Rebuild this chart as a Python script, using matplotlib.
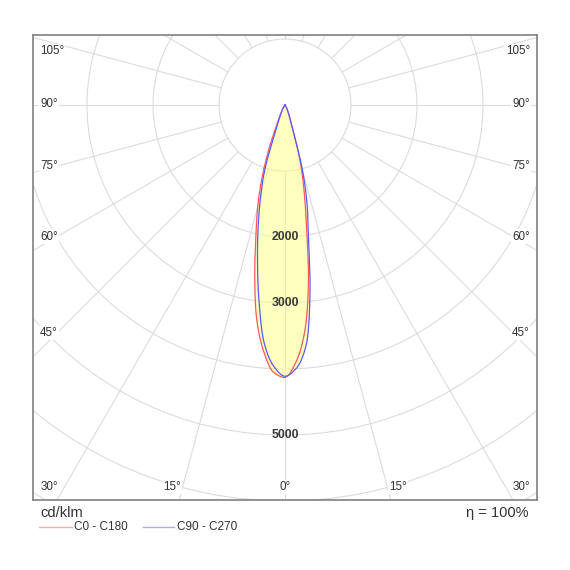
import numpy as np
import matplotlib
matplotlib.use('Agg')
import matplotlib.pyplot as plt
from matplotlib.patches import Circle

plt.rcParams['font.family'] = ['Liberation Sans', 'DejaVu Sans']

# gamma angle (deg) and intensity (cd/klm) for each C plane
gamma = [0, 2.5, 5, 7.5, 10, 12.5, 15, 17.5, 20, 22.5, 25, 30, 35, 40, 45, 90]
c0 = [4125, 3890, 3440, 2720, 1880, 1340, 900, 400, 230, 140, 90, 40, 15, 5, 0, 0]
c180 = [4130, 4050, 3740, 3280, 2640, 2040, 1600, 1160, 720, 330, 190, 80, 30, 10, 0, 0]
c90 = [4110, 3990, 3660, 2900, 2040, 1550, 1020, 390, 230, 140, 90, 40, 15, 5, 0, 0]
c270 = [4110, 3960, 3620, 3010, 2400, 1880, 1420, 1000, 400, 240, 150, 70, 25, 8, 0, 0]

rings = [1000, 2000, 3000, 4000, 5000, 6000, 7000]
ring_labels = [2000, 3000, 5000]
side_angles = [45, 60, 75, 90, 105]
bottom_angles = [0, 15, 30]

PX = 1000 / 66.0  # cd/klm per pixel


def pchip(x, y, xn):
    # monotone cubic so the photometric curve stays smooth
    x = np.asarray(x, float)
    y = np.asarray(y, float)
    h = np.diff(x)
    d = np.diff(y) / h
    m = np.zeros_like(y)
    for k in range(1, len(x) - 1):
        if d[k - 1] * d[k] > 0:
            w1 = 2 * h[k] + h[k - 1]
            w2 = h[k] + 2 * h[k - 1]
            m[k] = (w1 + w2) / (w1 / d[k - 1] + w2 / d[k])
    i = np.clip(np.searchsorted(x, xn) - 1, 0, len(x) - 2)
    t = (xn - x[i]) / h[i]
    h00 = 2 * t**3 - 3 * t**2 + 1
    h10 = t**3 - 2 * t**2 + t
    h01 = -2 * t**3 + 3 * t**2
    h11 = t**3 - t**2
    return h00 * y[i] + h10 * h[i] * m[i] + h01 * y[i + 1] + h11 * h[i] * m[i + 1]


fig = plt.figure(figsize=(5.7, 5.7), dpi=100)
ax = fig.add_axes([33 / 570, 70 / 570, 504 / 570, 465 / 570])
ax.set_xlim(-252 * PX, 252 * PX)
ax.set_ylim(-395 * PX, 70 * PX)
ax.set_aspect('equal')
ax.set_xticks([])
ax.set_yticks([])
for s in ax.spines.values():
    s.set_color('#808080')
    s.set_linewidth(1.2)

# grid
gc = '#dcdcdc'
for r in rings:
    ax.add_patch(Circle((0, 0), r, fill=False, ec=gc, lw=0.8, zorder=1))
for a in np.arange(0, 360, 15):
    t = np.radians(a)
    ax.plot([1000 * np.sin(t), 9000 * np.sin(t)], [-1000 * np.cos(t), -9000 * np.cos(t)],
            color=gc, lw=0.8, zorder=1)


def curve(left, right):
    th = np.arange(0, 90.01, 0.2)
    il = np.maximum(pchip(gamma, left, th), 0)
    ir = np.maximum(pchip(gamma, right, th), 0)
    t = np.radians(th)
    x = np.concatenate([-(il * np.sin(t))[::-1], ir * np.sin(t)])
    y = np.concatenate([-(il * np.cos(t))[::-1], -ir * np.cos(t)])
    return x, y


xr, yr = curve(c180, c0)
xb, yb = curve(c270, c90)
xe, ye = curve(np.maximum(c180, c270), np.maximum(c0, c90))

ax.fill(xe, ye, color='#ffff80', alpha=0.5, lw=0, zorder=2)
ax.plot(xr, yr, color='#ff5a5a', lw=0.9, zorder=3)
ax.plot(xb, yb, color='#5a5aff', lw=0.9, zorder=3)

# value labels on the 0 deg axis
for v in ring_labels:
    ax.text(0, -v, str(v), ha='center', va='center', fontsize=8.8,
            fontweight='bold', color='#3a3a3a', zorder=4)

# angle labels
box = dict(boxstyle='square,pad=0.1', fc='white', ec='none')
for a in side_angles:
    dy = max(228 / np.tan(np.radians(a)), -54) if a != 90 else -1
    for sgn in (-1, 1):
        ax.text(sgn * 245 * PX, -dy * PX, f'{a}°', ha='left' if sgn < 0 else 'right',
                va='center', fontsize=8.4, color='#333333', bbox=box, zorder=4)
for a in bottom_angles:
    dx = min(423 * np.tan(np.radians(a)), 236)
    for sgn in ((1,) if a == 0 else (-1, 1)):
        ax.text(sgn * dx * PX, -382 * PX, f'{a}°', ha='center', va='center',
                fontsize=8.4, color='#333333', bbox=box, zorder=4)

# footer
fig.text(40 / 570, 1 - 513 / 570, 'cd/klm', fontsize=10.5, color='#333333', va='center')
fig.text(528 / 570, 1 - 513 / 570, 'η = 100%', fontsize=10.5, color='#333333',
         va='center', ha='right')
ly = 1 - 527 / 570
fig.add_artist(plt.Line2D([39 / 570, 72 / 570], [ly, ly], color='#ffaaaa', lw=1))
fig.text(74 / 570, ly, 'C0 - C180', fontsize=8.5, color='#333333', va='center')
fig.add_artist(plt.Line2D([143 / 570, 174 / 570], [ly, ly], color='#aaaaff', lw=1))
fig.text(177 / 570, ly, 'C90 - C270', fontsize=8.5, color='#333333', va='center')

fig.savefig('out.png', dpi=100)
